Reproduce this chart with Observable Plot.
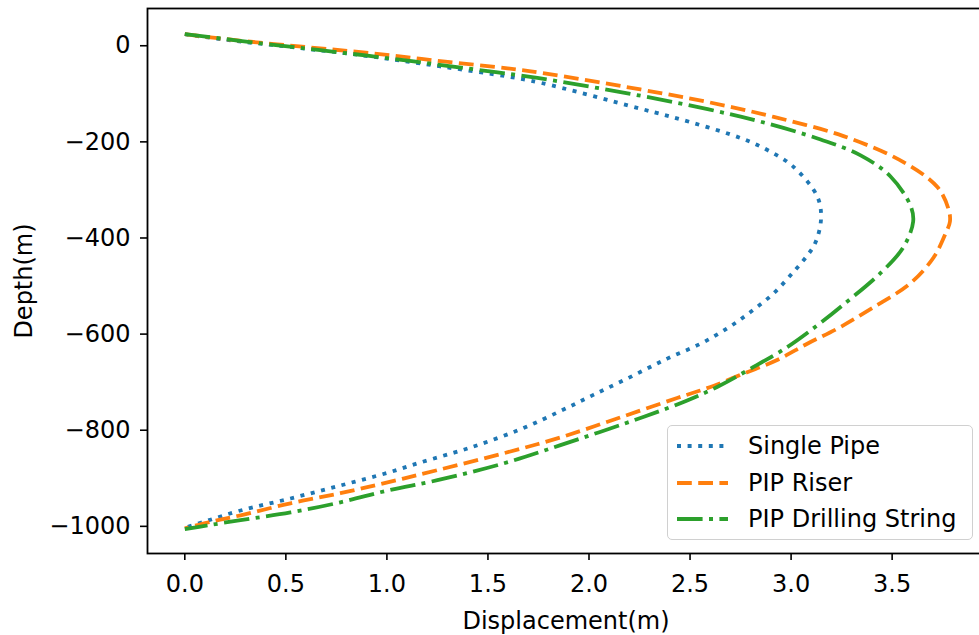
<!DOCTYPE html>
<html>
<head>
<meta charset="utf-8">
<script src="https://cdn.jsdelivr.net/npm/d3@7"></script>
<script src="https://cdn.jsdelivr.net/npm/@observablehq/plot@0.6"></script>
<style>
  html, body { margin: 0; padding: 0; background: white; overflow: hidden; }
  #wrap { position: relative; width: 979px; height: 635px; overflow: hidden; }
  #wrap svg { max-width: none !important; display: block; }
  #legend {
    position: absolute; left: 667px; top: 425px; width: 306px; height: 115px;
    border: 1.5px solid #d0d0d0; border-radius: 5px; background: rgba(255,255,255,0.85);
    font-family: "DejaVu Sans", sans-serif; font-size: 24px; color: #000;
    box-sizing: border-box;
  }
  .row { position: absolute; left: 0; height: 30px; display: flex; align-items: center; }
  .row svg { margin-left: 9px; }
  .row span { margin-left: 20px; line-height: 30px; }
</style>
</head>
<body>
<div id="wrap"></div>
<script>
// ---- data ----
const seriesNames = ["Single Pipe", "PIP Riser", "PIP Drilling String"];
const seriesColors = ["#1f77b4", "#ff7f0e", "#2ca02c"];
const seriesDash = ["4,6.6", "14.8,6.4", "25.6,6.4,4,6.4"];

const dispSingle  = [0.0, 0.191, 0.607, 0.934, 1.265, 1.597, 1.760, 2.255, 2.502, 2.750, 2.883, 3.012, 3.131, 3.148, 3.120, 3.081, 3.013, 2.914, 2.799, 2.684, 2.552, 2.387, 2.206, 2.024, 1.859, 1.661, 1.414, 1.166, 1.008, 0.770, 0.523, 0.276, 0.113, 0.0];
const depthSingle = [24, 13, -6.5, -23, -43, -64, -77, -131, -159, -192, -217, -252, -315, -361, -410, -436, -470, -515, -554, -588, -620, -651, -689, -726, -760, -798, -836, -867, -888, -915, -942, -967, -988, -1003];

const dispRiser  = [0.0, 0.241, 0.607, 0.934, 1.265, 1.597, 1.760, 2.255, 2.587, 2.914, 3.259, 3.556, 3.724, 3.779, 3.786, 3.765, 3.706, 3.591, 3.408, 3.245, 3.080, 2.931, 2.766, 2.601, 2.436, 2.150, 1.859, 1.577, 1.250, 1.008, 0.770, 0.523, 0.276, 0.113, 0.0];
const depthRiser = [24, 12, -3, -16, -32, -47, -56, -91, -117, -148, -188, -242, -294, -340, -366, -390, -440, -494, -544, -585, -620, -654, -682, -710, -733, -774, -815, -848, -883, -908, -931, -952, -977, -992, -1004];

const dispDrill  = [0.0, 0.439, 0.770, 1.102, 1.429, 1.745, 2.255, 2.587, 2.849, 3.131, 3.344, 3.492, 3.591, 3.604, 3.556, 3.450, 3.255, 3.129, 2.981, 2.799, 2.634, 2.486, 2.272, 1.859, 1.577, 1.250, 1.008, 0.770, 0.523, 0.276, 0.113, 0.0];
const depthDrill = [24, 2, -14, -31, -49, -67, -104, -132, -158, -193, -228, -272, -333, -366, -419, -470, -540, -582, -627, -672, -710, -738, -772, -831, -869, -904, -925, -950, -971, -987, -998, -1006];

const xTicks = [0.0, 0.5, 1.0, 1.5, 2.0, 2.5, 3.0, 3.5];
const yTicks = [0, -200, -400, -600, -800, -1000];

// ---- build table ----
const allDisp = [dispSingle, dispRiser, dispDrill];
const allDepth = [depthSingle, depthRiser, depthDrill];
const rows = [];
seriesNames.forEach((name, i) => {
  allDisp[i].forEach((d, j) => rows.push({series: name, disp: d, depth: allDepth[i][j]}));
});

const font = "'DejaVu Sans', sans-serif";
const fmtY = d => String(d).replace("-", "\u2212");

const lineMarks = seriesNames.map((name, i) =>
  Plot.line(rows.filter(r => r.series === name), {
    x: "disp", y: "depth",
    stroke: seriesColors[i], strokeWidth: 3.8,
    strokeDasharray: seriesDash[i], strokeLinecap: "butt",
    curve: "catmull-rom"
  })
);

const chart = Plot.plot({
  width: 984, height: 635,
  marginLeft: 147, marginRight: 0, marginTop: 8, marginBottom: 82,
  style: {fontFamily: font, fontSize: "24px", color: "#000", background: "white", overflow: "visible"},
  x: {domain: [-0.1846, 3.957]},
  y: {domain: [-1056.5, 77.5]},
  marks: [
    ...lineMarks,
    Plot.frame({stroke: "#000", strokeWidth: 1.8}),
    Plot.axisX({anchor: "bottom", ticks: xTicks, tickFormat: d3.format(".1f"), tickSize: 7, tickPadding: 14, strokeWidth: 1.6,
      fontSize: 24, fontFamily: font, label: "Displacement(m)", labelAnchor: "center", labelOffset: 75, labelArrow: "none"}),
    Plot.axisY({anchor: "left", ticks: yTicks, tickFormat: fmtY, tickSize: 7, tickPadding: 10, strokeWidth: 1.6,
      fontSize: 24, fontFamily: font, label: "Depth(m)", labelAnchor: "center", labelOffset: 133, labelArrow: "none"})
  ]
});
document.getElementById("wrap").appendChild(chart);

// ---- legend ----
const legend = document.createElement("div");
legend.id = "legend";
const rowTops = [5, 42, 78];
seriesNames.forEach((name, i) => {
  const r = document.createElement("div");
  r.className = "row";
  r.style.top = rowTops[i] + "px";
  r.innerHTML = `<svg width="51" height="10"><line x1="0" y1="5" x2="51" y2="5" stroke="${seriesColors[i]}" stroke-width="3.8" stroke-dasharray="${seriesDash[i]}" stroke-linecap="butt"/></svg><span>${name}</span>`;
  legend.appendChild(r);
});
document.getElementById("wrap").appendChild(legend);
</script>
</body>
</html>
